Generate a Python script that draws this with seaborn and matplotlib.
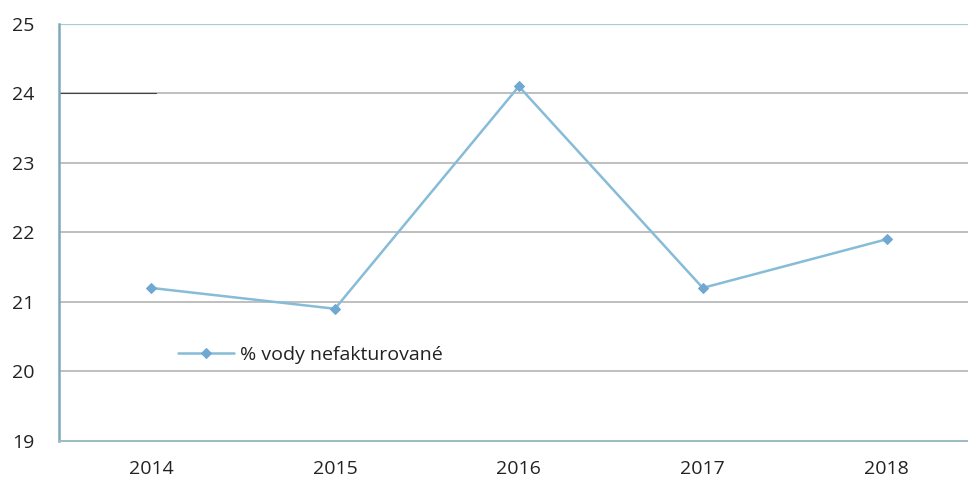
import matplotlib
matplotlib.use("Agg")
import matplotlib.pyplot as plt
import seaborn as sns
import pandas as pd

years = ["2014", "2015", "2016", "2017", "2018"]
unbilled_pct = [21.2, 20.9, 24.1, 21.2, 21.9]
series_name = "% vody nefakturované"
y_ticks = [19, 20, 21, 22, 23, 24, 25]

sns.set_theme(style="white")
plt.rcParams["font.family"] = ["Open Sans", "DejaVu Sans"]

df = pd.DataFrame({"rok": years, "hodnota": unbilled_pct})

fig = plt.figure(figsize=(9.68, 4.86), dpi=100)
ax = fig.add_axes([0.061, 0.093, 0.95, 0.858])

for t in y_ticks[1:-1]:
    ax.axhline(t, color="#b4b4b4", lw=1.2, zorder=0)
ax.axhline(25, color="#a8cbd6", lw=1.6, zorder=0)
ax.axhline(24, xmin=0, xmax=0.105, color="#444444", lw=0.8, zorder=1)

sns.lineplot(data=df, x="rok", y="hodnota", ax=ax, sort=False,
             color="#86bcd8", lw=1.8, marker="D", markersize=5,
             markerfacecolor="#6fa8d0", markeredgecolor="#6fa8d0",
             label=series_name)

ax.set_xlim(-0.5, 4.5)
ax.set_ylim(19, 25)
ax.set_yticks(y_ticks)
ax.set_xlabel("")
ax.set_ylabel("")
ax.tick_params(axis="y", length=0, pad=18, labelsize=14, labelcolor="#222222")
ax.tick_params(axis="x", length=0, pad=14, labelsize=14, labelcolor="#222222")
for lbl in ax.get_xticklabels() + ax.get_yticklabels():
    lbl.set_fontweight("medium")

for side in ["top", "right"]:
    ax.spines[side].set_visible(False)
ax.spines["left"].set_color("#7fa9b9")
ax.spines["left"].set_linewidth(1.8)
ax.spines["bottom"].set_color("#9bbcc4")
ax.spines["bottom"].set_linewidth(1.4)

leg = ax.legend(loc="upper left", bbox_to_anchor=(0.11, 0.27), frameon=False,
                fontsize=14, handlelength=2.9, handletextpad=0.3)
for txt in leg.get_texts():
    txt.set_color("#222222")
    txt.set_fontweight("medium")

fig.savefig("out.png", dpi=100)
